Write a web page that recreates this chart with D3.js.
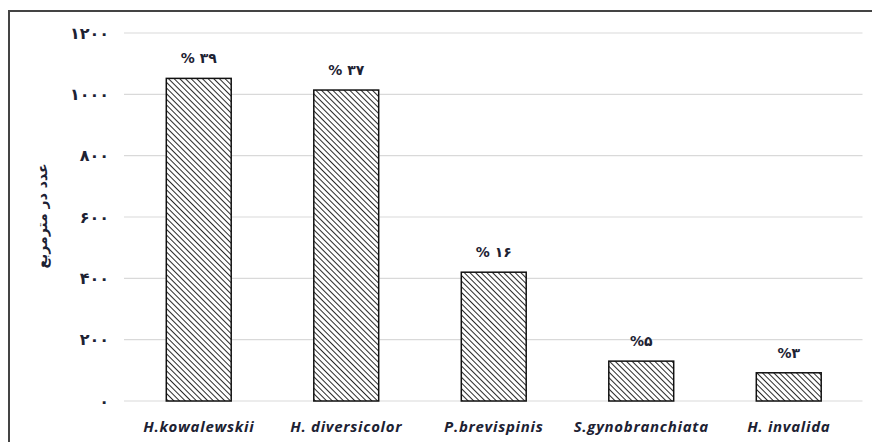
<!DOCTYPE html>
<html>
<head>
<meta charset="utf-8">
<script src="https://cdn.jsdelivr.net/npm/d3@7/dist/d3.min.js"></script>
<style>
  body { margin: 0; background: #fff; }
  svg { display: block; }
</style>
</head>
<body>
<svg id="chart" width="872" height="442"></svg>
<script>
  // data
  const species = ["H.kowalewskii", "H. diversicolor", "P.brevispinis", "S.gynobranchiata", "H. invalida"];
  const density = [1052, 1014, 420, 130, 92];
  const shares = ["% ۳۹", "% ۳۷", "% ۱۶", "%۵", "%۳"];
  const yTicks = [0, 200, 400, 600, 800, 1000, 1200];
  const yTickLabels = ["۰", "۲۰۰", "۴۰۰", "۶۰۰", "۸۰۰", "۱۰۰۰", "۱۲۰۰"];
  const yTitle = "عدد در مترمربع";

  const svg = d3.select("#chart");
  const W = 872, H = 442;
  const m = { left: 125, right: 10, top: 33, bottom: 41 };

  const x = d3.scaleBand().domain(species).range([m.left, 862.5]).paddingInner(0.56).paddingOuter(0.28);
  const y = d3.scaleLinear().domain([0, 1200]).range([H - m.bottom, m.top]);

  /* hatch pattern */
  const pat = svg.append("defs").append("pattern")
    .attr("id", "hatch")
    .attr("patternUnits", "userSpaceOnUse")
    .attr("width", 4).attr("height", 4)
    .attr("patternTransform", "rotate(45)");
  pat.append("rect").attr("width", 4).attr("height", 4).attr("fill", "#fff");
  pat.append("line")
    .attr("x1", 0).attr("y1", 0).attr("x2", 4).attr("y2", 0)
    .attr("stroke", "#111").attr("stroke-width", 1.8);

  /* frame (top + left visible) */
  svg.append("path")
    .attr("d", "M9,442 V11 H872")
    .attr("fill", "none").attr("stroke", "#444").attr("stroke-width", 2);

  /* gridlines */
  svg.append("g").selectAll("line").data(yTicks).join("line")
    .attr("x1", m.left - 1).attr("x2", 862.5)
    .attr("y1", d => y(d)).attr("y2", d => y(d))
    .attr("stroke", "#d9d9d9").attr("stroke-width", 1.2);

  /* y axis labels */
  const yAxis = d3.axisLeft(y).tickValues(yTicks).tickSize(0).tickPadding(0)
    .tickFormat((d, i) => yTickLabels[i]);
  const ya = svg.append("g").attr("transform", "translate(109,0)").call(yAxis);
  ya.select(".domain").remove();
  ya.selectAll("text")
    .attr("font-family", "DejaVu Sans")
    .attr("font-weight", "bold")
    .attr("font-size", 16)
    .attr("letter-spacing", 1)
    .attr("fill", "#1d2233");

  /* y title */
  svg.append("text")
    .attr("transform", "translate(43,216) rotate(-90)")
    .attr("text-anchor", "middle")
    .attr("dominant-baseline", "middle")
    .attr("font-family", "DejaVu Sans")
    .attr("font-weight", "bold")
    .attr("font-size", 14)
    .attr("fill", "#1d2233")
    .text(yTitle);

  /* bars */
  svg.append("g").selectAll("rect").data(density).join("rect")
    .attr("x", (d, i) => x(species[i]))
    .attr("width", x.bandwidth())
    .attr("y", d => y(d))
    .attr("height", d => y(0) - y(d))
    .attr("fill", "url(#hatch)")
    .attr("stroke", "#111").attr("stroke-width", 1.5);

  /* percentage labels */
  svg.append("g").selectAll("text").data(density).join("text")
    .attr("x", (d, i) => x(species[i]) + x.bandwidth() / 2)
    .attr("y", d => y(d) - 15)
    .attr("text-anchor", "middle")
    .attr("font-family", "DejaVu Sans")
    .attr("font-weight", "bold")
    .attr("font-size", 14)
    .attr("fill", "#1d2233")
    .text((d, i) => shares[i]);

  /* x labels */
  const xAxis = d3.axisBottom(x).tickSize(0).tickPadding(0);
  const xa = svg.append("g").attr("transform", `translate(0,${y(0) + 26})`).call(xAxis);
  xa.select(".domain").remove();
  xa.selectAll("text")
    .attr("dy", "0.35em")
    .attr("font-family", "Open Sans")
    .attr("font-weight", "bold")
    .attr("font-style", "italic")
    .attr("font-size", 15)
    .attr("letter-spacing", 0.7)
    .attr("fill", "#1d2233");
</script>
</body>
</html>
